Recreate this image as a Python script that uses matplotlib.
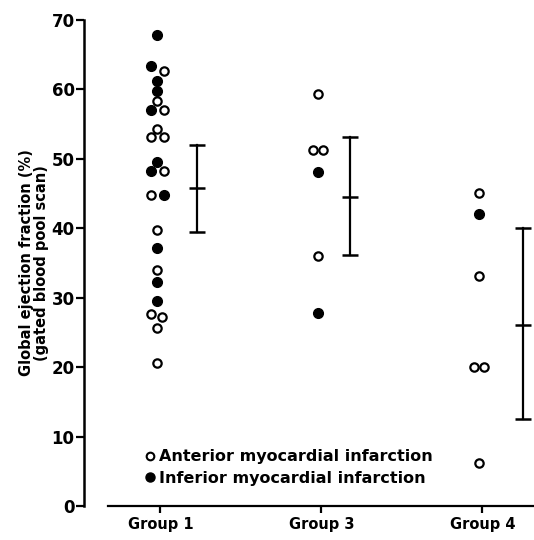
from matplotlib import pyplot as plt
from matplotlib.lines import Line2D
import numpy as np

plt.rcParams['font.family'] = ['DejaVu Sans']
plt.rcParams['font.weight'] = 'bold'

groups = ['Group 1', 'Group 3', 'Group 4']

# individual patients: group index, small horizontal shift, ejection fraction, infarct site
g1_anterior = [62.6, 58.3, 57.1, 54.3, 53.2, 53.2, 48.2, 44.8, 39.7, 34.0, 27.7, 27.2, 25.7, 20.6]
g1_anterior_dx = [0.04, 0.0, 0.04, 0.0, -0.04, 0.04, 0.04, -0.04, 0.0, 0.0, -0.04, 0.03, 0.0, 0.0]
g1_inferior = [67.8, 63.4, 61.2, 59.8, 57.1, 49.5, 48.2, 44.8, 37.2, 32.2, 29.5]
g1_inferior_dx = [0.0, -0.04, 0.0, 0.0, -0.04, 0.0, -0.04, 0.04, 0.0, 0.0, 0.0]

g3_anterior = [59.3, 51.3, 51.3, 36.0]
g3_anterior_dx = [0.0, -0.03, 0.03, 0.0]
g3_inferior = [48.1, 27.8]
g3_inferior_dx = [0.0, 0.0]

g4_anterior = [45.1, 33.1, 20.0, 20.0, 6.2]
g4_anterior_dx = [0.0, 0.0, -0.03, 0.03, 0.0]
g4_inferior = [42.0]
g4_inferior_dx = [0.0]

# mean and range bars
bar_mean = [45.8, 44.5, 26.0]
bar_low = [39.5, 36.1, 12.5]
bar_high = [52.0, 53.1, 40.1]
bar_dx = [0.23, 0.175, 0.25]

fig = plt.figure(figsize=(5.34, 5.40), dpi=100)
ax = fig.add_axes([108 / 534, 34 / 540, 426 / 534, 486 / 540])

anterior = [(1, g1_anterior, g1_anterior_dx), (2, g3_anterior, g3_anterior_dx), (3, g4_anterior, g4_anterior_dx)]
inferior = [(1, g1_inferior, g1_inferior_dx), (2, g3_inferior, g3_inferior_dx), (3, g4_inferior, g4_inferior_dx)]

for gx, vals, dx in anterior:
    xs = gx - 0.02 + np.array(dx)
    ax.plot(xs, vals, 'o', ms=6, mfc='white', mec='black', mew=1.6, ls='none')
for gx, vals, dx in inferior:
    xs = gx - 0.02 + np.array(dx)
    ax.plot(xs, vals, 'o', ms=7, mfc='black', mec='black', ls='none')

for i in range(len(groups)):
    x = i + 1 + bar_dx[i]
    ax.plot([x, x], [bar_low[i], bar_high[i]], color='black', lw=1.6)
    ax.plot(x, bar_high[i], '_', ms=11, mew=1.8, color='black')
    ax.plot(x, bar_low[i], '_', ms=11, mew=1.8, color='black')
    ax.plot(x, bar_mean[i], '_', ms=11, mew=1.8, color='black')

ax.set_xlim(0.675, 3.32)
ax.set_ylim(0, 70)
ax.set_yticks(range(0, 71, 10))
ax.set_xticks([1, 2, 3])
ax.set_xticklabels(groups, fontsize=10.5, fontweight='bold')
ax.tick_params(axis='y', labelsize=12, width=1.6, length=6, pad=1)
ax.tick_params(axis='x', width=1.6, length=5, pad=3)

for s in ['top', 'right']:
    ax.spines[s].set_visible(False)
ax.spines['left'].set_position(('outward', 17))
ax.spines['left'].set_linewidth(1.8)
ax.spines['bottom'].set_linewidth(1.6)

ax.set_ylabel('Global ejection fraction (%)\n(gated blood pool scan)',
              fontsize=10.5, fontweight='bold', labelpad=2, linespacing=0.95)

handles = [
    Line2D([], [], marker='o', ls='none', ms=5.5, mfc='white', mec='black', mew=1.5),
    Line2D([], [], marker='o', ls='none', ms=6.5, mfc='black', mec='black'),
]
ax.legend(handles, ['Anterior myocardial infarction', 'Inferior myocardial infarction'],
          loc='lower left', bbox_to_anchor=(0.06, 0.025), frameon=False,
          handletextpad=0.0, handlelength=1.1, labelspacing=0.4,
          prop={'size': 11.5, 'weight': 'bold'}, borderpad=0)

fig.savefig('out.png', dpi=100)
